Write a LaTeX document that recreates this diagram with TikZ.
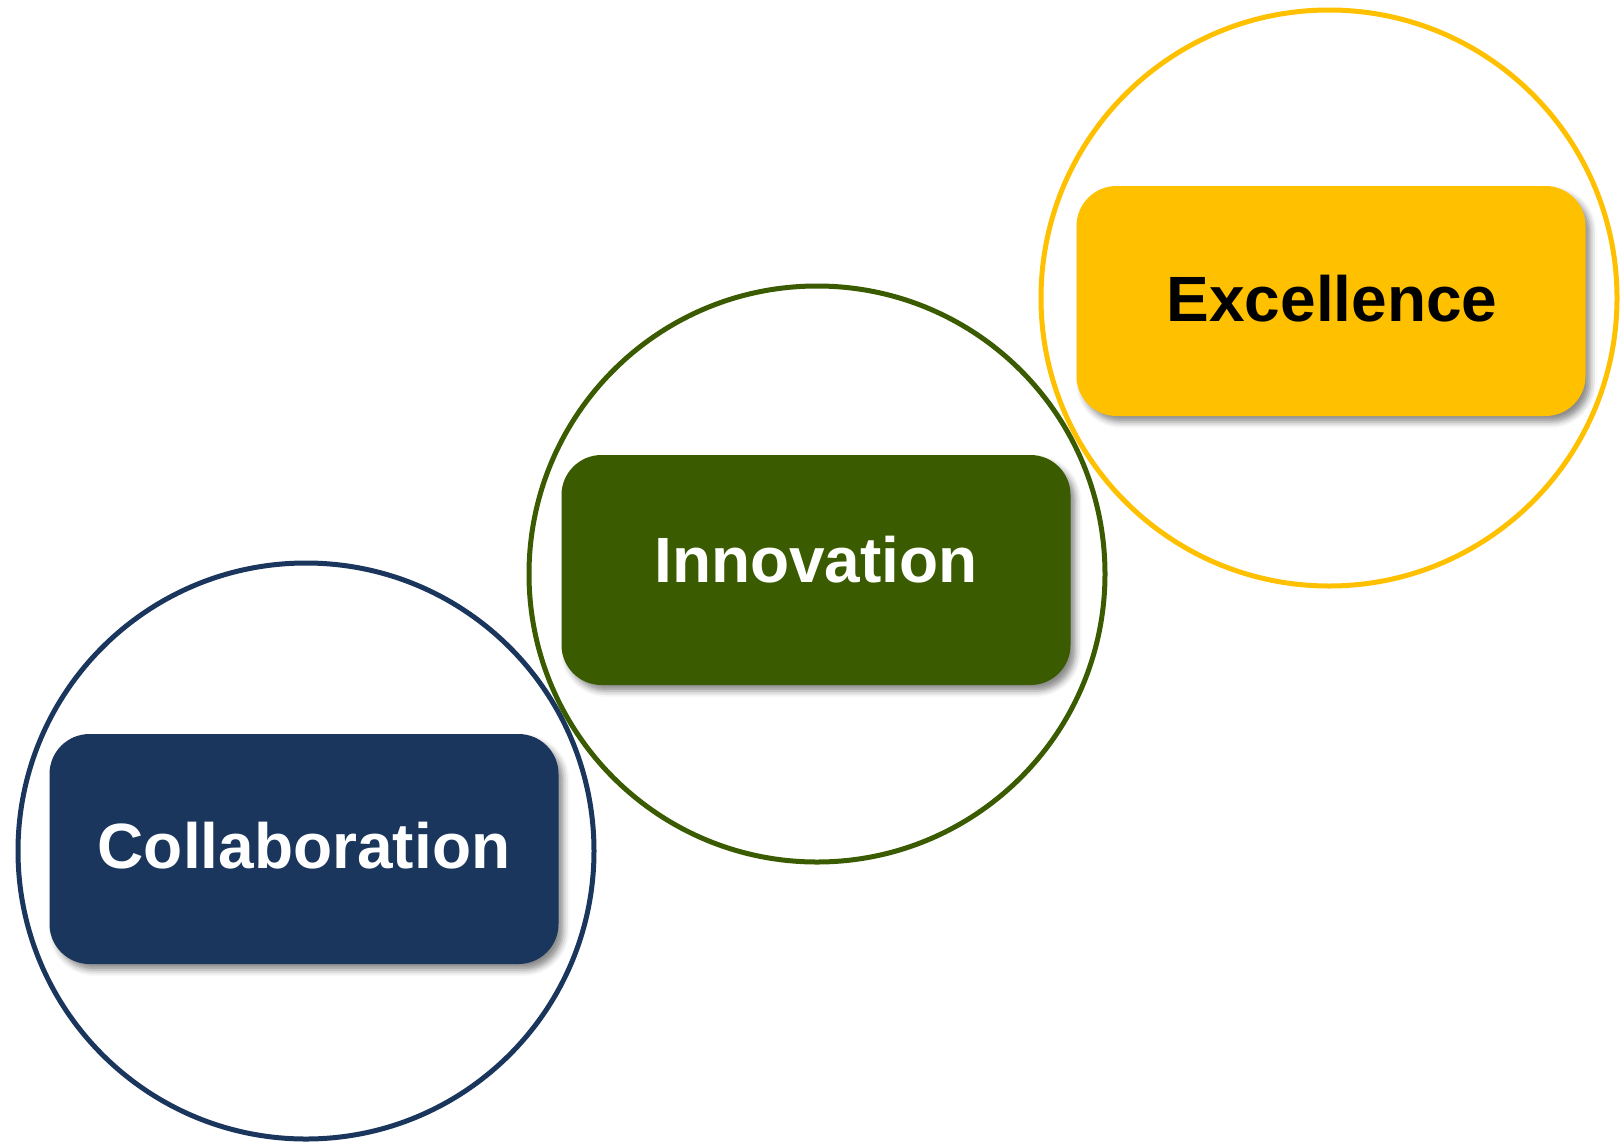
\documentclass[tikz,border=0pt]{standalone}
\usepackage{fontspec}
\setmainfont{Liberation Sans}
\usetikzlibrary{shadows.blur}
\definecolor{navy}{HTML}{1A365D}
\definecolor{leaf}{HTML}{3A5B00}
\definecolor{gold}{HTML}{FFC000}
\begin{document}
\begin{tikzpicture}[x=1pt,y=-1pt,
  ring/.style={circle, draw, line width=5pt, minimum size=576pt, inner sep=0pt},
  card/.style={rectangle, rounded corners=40pt, minimum width=509pt, minimum height=230pt, inner sep=0pt,
    blur shadow={shadow xshift=5pt, shadow yshift=-6pt, shadow blur radius=6pt, shadow opacity=45}},
  cardtext/.style={font=\fontsize{64}{70}\selectfont\bfseries, inner sep=0pt}]
\useasboundingbox (0,0) rectangle (1622,1141);
% rings
\node[ring, draw=navy] (ringC) at (306,851) {};
\node[ring, draw=leaf] (ringI) at (817,574) {};
\node[ring, draw=gold] (ringE) at (1329,298) {};
% cards
\node[card, fill=navy] (cardC) at (304,849) {};
\node[card, fill=leaf] (cardI) at (816,570) {};
\node[card, fill=gold] (cardE) at (1331,301) {};
% texts
\node[cardtext, text=white] (txtC) at (304,846) {Collaboration};
\node[cardtext, text=white] (txtI) at (816,560) {Innovation};
\node[cardtext, text=black] (txtE) at (1332,299) {Excellence};
\end{tikzpicture}
\end{document}
